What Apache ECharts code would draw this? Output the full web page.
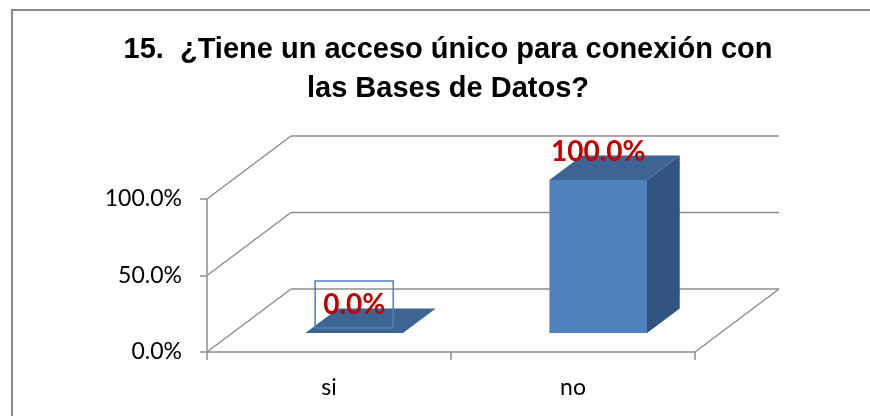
<!DOCTYPE html>
<html>
<head>
<meta charset="utf-8">
<title>Pregunta 15</title>
<script src="https://cdn.jsdelivr.net/npm/echarts@6/dist/echarts.min.js"></script>
<style>
    html, body { margin: 0; padding: 0; background: #fff; }
    #chart { width: 870px; height: 416px; }
</style>
</head>
<body>
<div id="chart"></div>
<script>
    // datos de la pregunta
    var categories = ['si', 'no'];
    var values = [0, 1];
    var yTicks = [0, 0.5, 1];

    // perspectiva del grafico 3D
    var DX = 84, DY = -63;        // profundidad de las paredes
    var BAR_OFFSET = 0.3;         // la barra empieza a esta fraccion de la profundidad
    var BAR_DEPTH = 0.39;         // profundidad de la barra
    var BAR_RATIO = 0.4;          // ancho de la barra respecto a la categoria
    var TITLE_FONT = '"Liberation Sans", Arial, sans-serif';
    var FONT = 'Lato, "Liberation Sans", sans-serif';
    var GRID_COLOR = '#8e8e8e';

    function pct(v) {
        return (v * 100).toFixed(1) + '%';
    }

    var chart = echarts.init(document.getElementById('chart'));

    var option = {
        animation: false,
        title: {
            text: '15.  ¿Tiene un acceso único para conexión con\nlas Bases de Datos?',
            left: 443,
            top: 25,
            textAlign: 'center',
            textStyle: {
                fontFamily: TITLE_FONT,
                fontSize: 29,
                fontWeight: 'bold',
                lineHeight: 39,
                color: '#000'
            }
        },
        graphic: [{
            type: 'rect',
            shape: { x: 12, y: 10, width: 900, height: 450 },
            style: { fill: 'none', stroke: '#8a8a8a', lineWidth: 2 },
            silent: true
        }],
        grid: {
            left: 207,
            right: 175,
            top: 199,
            bottom: 64
        },
        xAxis: {
            type: 'category',
            data: categories,
            axisLine: { lineStyle: { color: GRID_COLOR, width: 1.5 } },
            axisTick: { show: true, length: 8, lineStyle: { color: GRID_COLOR, width: 1.5 } },
            axisLabel: { fontFamily: FONT, fontSize: 23, color: '#000', margin: 24 },
            splitLine: { show: false }
        },
        yAxis: {
            type: 'value',
            min: 0,
            max: 1,
            interval: 0.5,
            axisLine: { show: true, lineStyle: { color: GRID_COLOR, width: 1.5 } },
            axisTick: { show: true, length: 7, lineStyle: { color: GRID_COLOR, width: 1.5 } },
            axisLabel: {
                fontFamily: FONT, fontSize: 23, color: '#000', margin: 25,
                formatter: pct
            },
            splitLine: { show: false }
        },
        series: [
            {
                // paredes y piso
                type: 'custom',
                silent: true,
                z: 1,
                data: yTicks.map(function (v) { return [0, v]; }),
                renderItem: function (params, api) {
                    var cs = params.coordSys;
                    var y = api.coord([0, api.value(1)])[1];
                    var x0 = cs.x, x1 = cs.x + cs.width;
                    var style = { stroke: GRID_COLOR, lineWidth: 1.5 };
                    var children = [
                        { type: 'line', shape: { x1: x0, y1: y, x2: x0 + DX, y2: y + DY }, style: style },
                        { type: 'line', shape: { x1: x0 + DX, y1: y + DY, x2: x1 + DX, y2: y + DY }, style: style }
                    ];
                    if (api.value(1) === 0) {
                        children.push({ type: 'line', shape: { x1: x1, y1: y, x2: x1 + DX, y2: y + DY }, style: style });
                    }
                    return { type: 'group', children: children };
                }
            },
            {
                // barras 3D
                type: 'custom',
                z: 2,
                data: values.map(function (v, i) { return [i, v]; }),
                renderItem: function (params, api) {
                    var i = api.value(0), v = api.value(1);
                    var base = api.coord([i, 0]);
                    var top = api.coord([i, v]);
                    var bw = api.size([1, 0])[0] * BAR_RATIO;
                    var ox = BAR_OFFSET * DX, oy = BAR_OFFSET * DY;
                    var bx = BAR_DEPTH * DX, by = BAR_DEPTH * DY;
                    var xl = base[0] - bw / 2 + ox, xr = xl + bw;
                    var yb = base[1] + oy, yt = top[1] + oy;
                    var children = [];
                    if (yb - yt > 0) {
                        children.push({
                            type: 'rect',
                            shape: { x: xl, y: yt, width: bw, height: yb - yt },
                            style: { fill: '#4f81bd' }
                        });
                        children.push({
                            type: 'polygon',
                            shape: { points: [[xr, yt], [xr + bx, yt + by], [xr + bx, yb + by], [xr, yb]] },
                            style: { fill: '#325480' }
                        });
                    }
                    children.push({
                        type: 'polygon',
                        shape: { points: [[xl, yt], [xr, yt], [xr + bx, yt + by], [xl + bx, yt + by]] },
                        style: { fill: '#3d6492' }
                    });
                    var labelStyle = {
                        text: pct(v),
                        fill: '#c00000',
                        font: 'bold 28px ' + FONT,
                        align: 'center',
                        verticalAlign: 'middle'
                    };
                    if (params.dataIndex === 0) {
                        labelStyle.borderColor = '#4f81bd';
                        labelStyle.borderWidth = 1.5;
                        labelStyle.padding = [12, 8, 7, 8];
                    }
                    children.push({
                        type: 'text',
                        x: (xl + xr) / 2,
                        y: yt + by - 4,
                        style: labelStyle
                    });
                    return { type: 'group', children: children };
                }
            }
        ]
    };

    chart.setOption(option);
</script>
</body>
</html>
